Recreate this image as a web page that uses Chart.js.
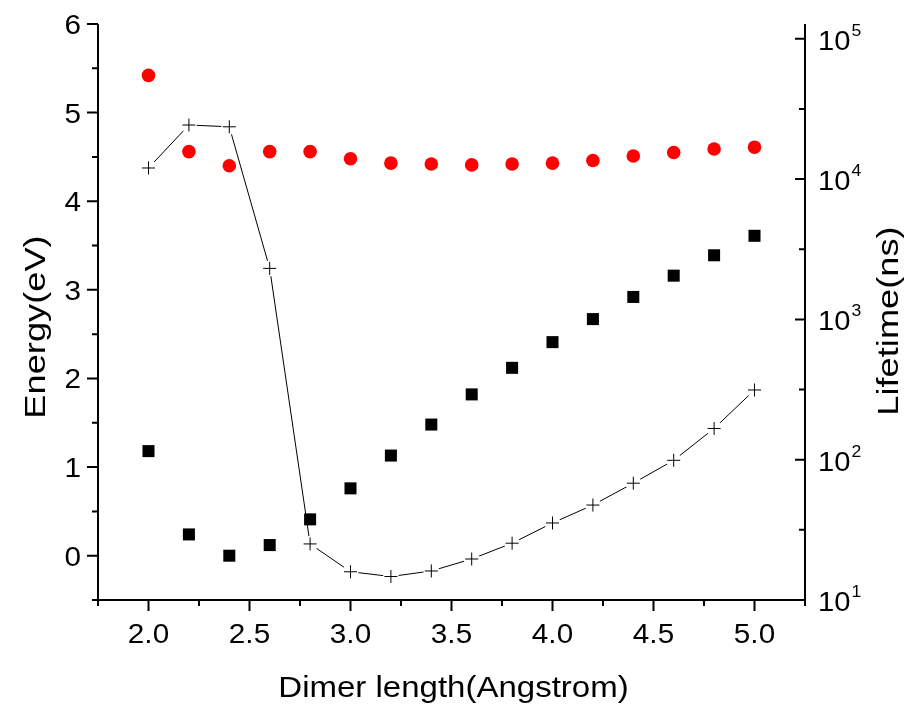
<!DOCTYPE html>
<html>
<head>
<meta charset="utf-8">
<title>Dimer length vs energy and lifetime</title>
<script src="https://cdn.jsdelivr.net/npm/chart.js@4.4.1/dist/chart.umd.min.js"></script>
<style>
  html, body { margin: 0; padding: 0; background: #ffffff; }
  #wrap { width: 914px; height: 707px; }
</style>
</head>
<body>
<div id="wrap"><canvas id="chart" width="914" height="707"></canvas></div>
<script>
// Dimer length (Angstrom)
const dimerLength = [2.0, 2.2, 2.4, 2.6, 2.8, 3.0, 3.2, 3.4, 3.6, 3.8, 4.0, 4.2, 4.4, 4.6, 4.8, 5.0];
// Upper energy level (eV), red circles
const upperEnergy = [5.42, 4.56, 4.40, 4.56, 4.56, 4.48, 4.43, 4.42, 4.41, 4.42, 4.43, 4.46, 4.51, 4.55, 4.59, 4.61];
// Lower energy level (eV), black squares
const lowerEnergy = [1.18, 0.24, 0.00, 0.12, 0.41, 0.76, 1.13, 1.48, 1.82, 2.12, 2.41, 2.67, 2.92, 3.16, 3.39, 3.61];
// Lifetime (ns), crosses joined by a line, right log axis
const lifetime = [12000, 24300, 23600, 2310, 25.1, 15.9, 14.7, 16.1, 19.6, 25.4, 35.4, 47.5, 68, 99, 167, 314];

// Tick labels
const energyTicks = [0, 1, 2, 3, 4, 5, 6];
const energyMinorTicks = [-0.5, 0.5, 1.5, 2.5, 3.5, 4.5, 5.5];
const lengthTicks = ['2.0', '2.5', '3.0', '3.5', '4.0', '4.5', '5.0'];
const lengthMinorTicks = [1.75, 2.25, 2.75, 3.25, 3.75, 4.25, 4.75, 5.25];
const lifetimeExponents = [1, 2, 3, 4, 5];

const FONT = '"Liberation Sans", Arial, Helvetica, sans-serif';

const pts = (ys) => dimerLength.map((x, i) => ({ x: x, y: ys[i] }));

// Text drawn slightly widened along its direction
function wideText(ctx, str, x, y, size, align, sx, rot) {
  ctx.save();
  ctx.translate(x, y);
  if (rot) ctx.rotate(rot);
  ctx.scale(sx, 1);
  ctx.font = size + 'px ' + FONT;
  ctx.textAlign = align;
  ctx.textBaseline = 'alphabetic';
  ctx.fillStyle = '#000000';
  ctx.fillText(str, 0, 0);
  ctx.restore();
}

// Axes frame, ticks and labels painted from the chart's scales
const axisPainter = {
  id: 'axisPainter',
  afterDraw(chart) {
    const ctx = chart.ctx;
    const xs = chart.scales.x, yl = chart.scales.y, yr = chart.scales.y2;
    const L = xs.left, R = xs.right, T = yl.top, B = yl.bottom;
    const major = 11, minor = 6;

    ctx.save();
    ctx.strokeStyle = '#000000';
    ctx.lineWidth = 2;
    ctx.lineCap = 'butt';

    // axis lines
    ctx.beginPath();
    ctx.moveTo(L, T); ctx.lineTo(L, B + 1);
    ctx.moveTo(L - 1, B); ctx.lineTo(R + 1, B);
    ctx.moveTo(R, T); ctx.lineTo(R, B + 1);
    ctx.stroke();

    // left ticks (outward)
    ctx.beginPath();
    energyTicks.forEach(v => { const y = yl.getPixelForValue(v); ctx.moveTo(L - major, y); ctx.lineTo(L, y); });
    energyMinorTicks.forEach(v => { const y = yl.getPixelForValue(v); ctx.moveTo(L - minor, y); ctx.lineTo(L, y); });
    // bottom ticks (outward)
    lengthTicks.forEach(t => { const x = xs.getPixelForValue(parseFloat(t)); ctx.moveTo(x, B); ctx.lineTo(x, B + major); });
    lengthMinorTicks.forEach(v => { const x = xs.getPixelForValue(v); ctx.moveTo(x, B); ctx.lineTo(x, B + minor); });
    // right ticks (inward), minor at half decades
    lifetimeExponents.forEach(e => {
      const y = yr.getPixelForValue(Math.pow(10, e));
      ctx.moveTo(R - major + 1, y); ctx.lineTo(R, y);
      if (e < 5) {
        const ym = yr.getPixelForValue(Math.pow(10, e + 0.5));
        ctx.moveTo(R - minor, ym); ctx.lineTo(R, ym);
      }
    });
    ctx.stroke();
    ctx.restore();

    // tick labels
    energyTicks.forEach(v => {
      wideText(ctx, String(v), L - 17, yl.getPixelForValue(v) + 10, 27, 'right', 1.1, 0);
    });
    lengthTicks.forEach(t => {
      wideText(ctx, t, xs.getPixelForValue(parseFloat(t)), B + 43, 27, 'center', 1.1, 0);
    });
    lifetimeExponents.forEach(e => {
      const y = yr.getPixelForValue(Math.pow(10, e));
      ctx.save();
      ctx.font = '27px ' + FONT;
      const w = ctx.measureText('10').width * 1.08;
      ctx.restore();
      wideText(ctx, '10', R + 13, y + 11, 27, 'left', 1.08, 0);
      wideText(ctx, String(e), R + 13 + w + 1, y - 3, 16, 'left', 1.1, 0);
    });

    // axis titles
    wideText(ctx, 'Dimer length(Angstrom)', (L + R) / 2 + 2, 697, 30, 'center', 1.1, 0);
    wideText(ctx, 'Energy(eV)', 45, (T + B) / 2 + 15, 29, 'center', 1.25, -Math.PI / 2);
    wideText(ctx, 'Lifetime(ns)', 898, (T + B) / 2 + 9, 29, 'center', 1.25, -Math.PI / 2);
  }
};

new Chart(document.getElementById('chart'), {
  type: 'scatter',
  data: {
    datasets: [
      {
        label: 'Lifetime line',
        data: pts(lifetime),
        yAxisID: 'y2',
        showLine: true,
        borderColor: '#000000',
        borderWidth: 1,
        pointRadius: 0,
        tension: 0,
        order: 5
      },
      {
        label: 'Lifetime gap',
        data: pts(lifetime),
        yAxisID: 'y2',
        showLine: false,
        pointRadius: 8,
        pointBackgroundColor: '#ffffff',
        pointBorderWidth: 0,
        order: 4
      },
      {
        label: 'Upper level',
        data: pts(upperEnergy),
        yAxisID: 'y',
        pointStyle: 'circle',
        pointRadius: 6.8,
        pointBackgroundColor: '#ff0000',
        pointBorderColor: '#ff0000',
        pointBorderWidth: 0,
        order: 2
      },
      {
        label: 'Lower level',
        data: pts(lowerEnergy),
        yAxisID: 'y',
        pointStyle: 'rect',
        pointRadius: 8.5,
        pointBackgroundColor: '#000000',
        pointBorderColor: '#000000',
        pointBorderWidth: 0,
        order: 2
      },
      {
        label: 'Lifetime',
        data: pts(lifetime),
        yAxisID: 'y2',
        showLine: false,
        pointStyle: 'cross',
        pointRadius: 6.5,
        pointBorderColor: '#000000',
        pointBorderWidth: 1,
        order: 1
      }
    ]
  },
  options: {
    responsive: false,
    animation: false,
    devicePixelRatio: 1,
    layout: { padding: { left: 98, right: 109, top: 24, bottom: 107 } },
    plugins: { legend: { display: false }, tooltip: { enabled: false } },
    scales: {
      x: { type: 'linear', min: 1.75, max: 5.25, display: false },
      y: { type: 'linear', position: 'left', min: -0.5, max: 6, display: false },
      y2: { type: 'logarithmic', position: 'right', min: 10, max: 127500, display: false }
    }
  },
  plugins: [axisPainter]
});
</script>
</body>
</html>
